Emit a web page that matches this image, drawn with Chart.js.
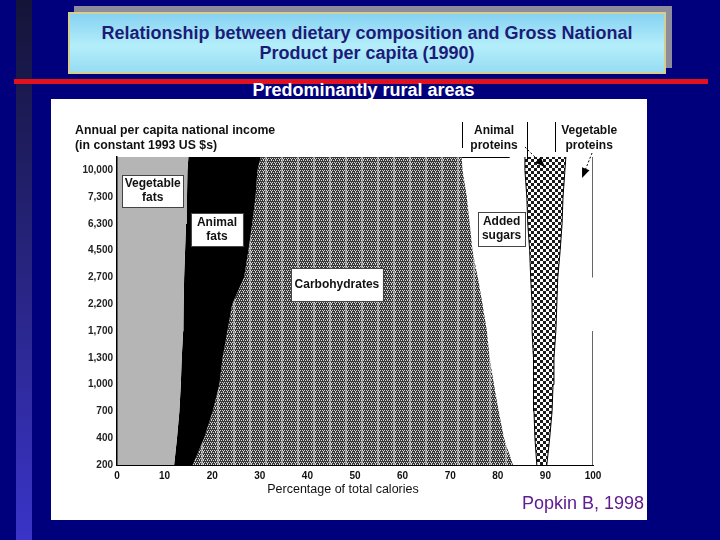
<!DOCTYPE html>
<html>
<head>
<meta charset="utf-8">
<script src="https://cdn.jsdelivr.net/npm/chart.js@4.4.1/dist/chart.umd.min.js"></script>
<style>
  html, body { margin: 0; padding: 0; }
  body {
    width: 720px; height: 540px; position: relative; overflow: hidden;
    background: #00007c; font-family: "Liberation Sans", Arial, sans-serif;
  }
  #strip { position: absolute; left: 16px; top: 0; width: 16px; height: 540px; background: linear-gradient(#141438, #3a34c8); }
  #shadow { position: absolute; left: 74px; top: 6px; width: 598px; height: 62px; background: #8c8c9c; }
  #titlebox {
    position: absolute; left: 68px; top: 12px; width: 594px; height: 58px;
    border: 2px solid #d6ce8c;
    background: linear-gradient(#86d2f2, #b4eefa 55%, #96dcf4);
    display: flex; align-items: center; justify-content: center; text-align: center;
    color: #1c1c78; font-weight: bold; font-size: 18px; line-height: 20px;
  }
  #redline { position: absolute; left: 14px; top: 79px; width: 694px; height: 5px; background: #e3101e; }
  #subtitle { position: absolute; left: 0; width: 727px; top: 81px; text-align: center; color: #fff; font-weight: bold; font-size: 18px; line-height: 18px; }
  #panel { position: absolute; left: 51px; top: 99px; width: 596px; height: 421px; background: #fff; }
  #source { position: absolute; right: 76px; top: 494px; color: #601c90; font-size: 18px; line-height: 18px; }
</style>
</head>
<body>
<div id="strip"></div>
<div id="shadow"></div>
<div id="titlebox">Relationship between dietary composition and Gross National<br>Product per capita (1990)</div>
<div id="redline"></div>
<div id="subtitle">Predominantly rural areas</div>
<div id="panel"><canvas id="myChart" width="596" height="421"></canvas></div>
<div id="source">Popkin B, 1998</div>

<script>
  // income rows, bottom to top
  const incomeLabels = ["200", "400", "700", "1,000", "1,300", "1,700", "2,200", "2,700", "4,500", "6,300", "7,300", "10,000"];

  // % of total calories per row (bottom to top); last value is read at the top edge of the plot
  const vegetableFats   = [12.0, 12.6, 13.1, 13.4, 13.6, 13.9, 14.0, 14.1, 14.3, 14.5, 14.7, 14.8, 15.0];
  const animalFats      = [3.9, 5.7, 7.0, 8.1, 8.6, 9.3, 10.2, 12.6, 13.3, 13.9, 14.4, 14.7, 15.2];
  const carbohydrates   = [67.3, 63.0, 60.1, 57.7, 56.1, 54.5, 52.6, 49.1, 47.1, 45.7, 44.4, 43.1, 42.2];
  const addedSugars     = [5.0, 6.5, 7.4, 8.4, 9.1, 9.5, 10.4, 11.1, 12.0, 12.2, 12.6, 13.1, 13.3];
  const animalProteins  = [2.1, 3.1, 3.8, 4.0, 4.4, 5.0, 5.2, 5.7, 6.4, 7.2, 7.6, 8.4, 8.6];
  const vegetableProteins = [9.7, 9.1, 8.6, 8.4, 8.2, 7.8, 7.6, 7.4, 6.9, 6.5, 6.3, 5.9, 5.7];

  const xTicks = [0, 10, 20, 30, 40, 50, 60, 70, 80, 90, 100];

  // row positions: one per income label, plus the top edge half a row above the last
  const rowPos = incomeLabels.map((_, i) => i).concat(incomeLabels.length - 0.5);
  const toPoints = (arr) => arr.map((v, i) => ({ x: v, y: rowPos[i] }));

  const FONT = '"Liberation Sans", Arial, sans-serif';

  function makePattern(w, h, draw) {
    const c = document.createElement("canvas");
    c.width = w; c.height = h;
    const g = c.getContext("2d");
    draw(g);
    return g.createPattern(c, "repeat");
  }

  const weave = makePattern(16, 4, (g) => {
    g.fillStyle = "#383838";
    g.fillRect(0, 0, 16, 4);
    g.fillStyle = "#d4d4d4";
    for (let i = 0; i < 16; i += 2) {
      g.fillRect(i, 1, 1, 1);
      g.fillRect(i + 1, 3, 1, 1);
    }
    for (let i = 0; i < 16; i += 4) g.fillRect(i, 0, 1, 1);
    g.fillStyle = "rgba(255,255,255,0.45)";
    g.fillRect(6, 0, 2, 4);
  });

  const checker = makePattern(6, 6, (g) => {
    g.fillStyle = "#fff";
    g.fillRect(0, 0, 6, 6);
    g.fillStyle = "#1a1a1a";
    g.fillRect(0, 0, 3, 3);
    g.fillRect(3, 3, 3, 3);
  });

  // boxed labels inside the plot: [lines, x %, row, box w, box h]
  const boxLabels = [
    [["Vegetable", "fats"], 7.5, 10.23, 61, 32],
    [["Animal", "fats"], 21.0, 8.79, 52, 33],
    [["Carbohydrates"], 46.2, 6.74, 92, 33],
    [["Added", "sugars"], 80.8, 8.81, 47, 34],
  ];

  const overlay = {
    id: "overlay",
    afterDatasetsDraw(chart) {
      const { ctx, chartArea, scales } = chart;
      const x = scales.x, y = scales.y;
      const top = chartArea.top;
      ctx.save();
      ctx.textBaseline = "middle";

      // boxed labels
      ctx.font = "bold 12px " + FONT;
      ctx.textAlign = "center";
      boxLabels.forEach(([lines, px, row, w, h]) => {
        const cx = x.getPixelForValue(px), cy = y.getPixelForValue(row);
        ctx.fillStyle = "#fff";
        ctx.fillRect(cx - w / 2, cy - h / 2, w, h);
        ctx.strokeStyle = "#444";
        ctx.lineWidth = 1;
        ctx.strokeRect(Math.round(cx - w / 2) + 0.5, Math.round(cy - h / 2) + 0.5, w, h);
        ctx.fillStyle = "#111";
        lines.forEach((t, i) => ctx.fillText(t, cx, cy + (i - (lines.length - 1) / 2) * 14));
      });

      // y axis heading
      ctx.textAlign = "left";
      ctx.font = "bold 12.3px " + FONT;
      ctx.fillText("Annual per capita national income", chartArea.left - 42, top - 26);
      ctx.fillText("(in constant 1993 US $s)", chartArea.left - 42, top - 11);

      // protein headings
      ctx.textAlign = "center";
      ctx.font = "bold 12px " + FONT;
      [["Animal", "proteins", 79.2], ["Vegetable", "proteins", 99.2]].forEach(([a, b, px]) => {
        const cx = x.getPixelForValue(px);
        ctx.fillText(a, cx, top - 26);
        ctx.fillText(b, cx, top - 11);
      });

      ctx.strokeStyle = "#000";
      ctx.lineWidth = 1;
      const vline = (px, y0, y1) => {
        const xx = Math.round(x.getPixelForValue(px)) + 0.5;
        ctx.beginPath(); ctx.moveTo(xx, top + y0); ctx.lineTo(xx, top + y1); ctx.stroke();
      };
      vline(72.4, -35, -9);
      vline(86.1, -35, 3);
      vline(92.0, -35, -5);
      ctx.beginPath();
      ctx.moveTo(x.getPixelForValue(72.4), top + 0.5);
      ctx.lineTo(x.getPixelForValue(82.5), top + 0.5);
      ctx.stroke();

      // dotted arrows
      const arrow = (p0, y0, p1, y1) => {
        const x0 = x.getPixelForValue(p0), x1 = x.getPixelForValue(p1);
        const a = Math.atan2(y1 - y0, x1 - x0);
        ctx.setLineDash([2, 2]);
        ctx.beginPath();
        ctx.moveTo(x0, top + y0);
        ctx.lineTo(x1 - 7 * Math.cos(a), top + y1 - 7 * Math.sin(a));
        ctx.stroke();
        ctx.setLineDash([]);
        ctx.fillStyle = "#000";
        ctx.beginPath();
        ctx.moveTo(x1, top + y1);
        ctx.lineTo(x1 - 10 * Math.cos(a) + 4 * Math.sin(a), top + y1 - 10 * Math.sin(a) - 4 * Math.cos(a));
        ctx.lineTo(x1 - 10 * Math.cos(a) - 4 * Math.sin(a), top + y1 - 10 * Math.sin(a) + 4 * Math.cos(a));
        ctx.closePath();
        ctx.fill();
      };
      arrow(85.7, -10, 89.9, 10);
      arrow(99.8, -4, 97.7, 21);

      // x axis title, set a little left of the plot centre as in the source
      ctx.textAlign = "center";
      ctx.fillStyle = "#111";
      ctx.font = "12.5px " + FONT;
      ctx.fillText("Percentage of total calories", (chartArea.left + chartArea.right) / 2 - 12, chartArea.bottom + 25);

      ctx.restore();
    },
  };

  window.addEventListener("load", setup);

  function setup() {
    const ctx = document.getElementById("myChart").getContext("2d");
    const base = { pointRadius: 0, borderWidth: 0, tension: 0 };

    new Chart(ctx, {
      type: "line",
      data: {
        datasets: [
          { ...base, label: "Vegetable fats", data: toPoints(vegetableFats), fill: "origin", backgroundColor: "#b5b5b5", borderColor: "#b5b5b5" },
          { ...base, label: "Animal fats", data: toPoints(animalFats), fill: "-1", backgroundColor: "#000", borderColor: "#000" },
          { ...base, label: "Carbohydrates", data: toPoints(carbohydrates), fill: "-1", backgroundColor: weave, borderColor: "#333" },
          { ...base, label: "Added sugars", data: toPoints(addedSugars), fill: false, borderColor: "#000", borderWidth: 1 },
          { ...base, label: "Animal proteins", data: toPoints(animalProteins), fill: "-1", backgroundColor: checker, borderColor: "#000", borderWidth: 1 },
          {
            ...base, label: "Vegetable proteins", data: toPoints(vegetableProteins), fill: false,
            borderColor: "#000", borderWidth: 1.2,
            segment: { borderColor: (c) => (c.p0DataIndex === 5 || c.p0DataIndex === 6 ? "rgba(0,0,0,0)" : undefined) },
          },
        ],
      },
      options: {
        indexAxis: "y",
        responsive: false,
        animation: false,
        events: [],
        layout: { padding: { left: 20, top: 58, right: 54, bottom: 0 } },
        plugins: { legend: { display: false }, tooltip: { enabled: false } },
        scales: {
          x: {
            type: "linear",
            stacked: true,
            min: 0,
            max: 100,
            afterBuildTicks: (s) => { s.ticks = xTicks.map((v) => ({ value: v })); },
            ticks: { color: "#111", padding: 5, maxRotation: 0, font: { family: FONT, size: 10, weight: "bold" } },
            grid: { display: false, drawTicks: false },
            border: { display: true, color: "#000", width: 1, z: 1 },
            afterFit: (s) => { s.height = 55; },
          },
          y: {
            type: "linear",
            min: 0,
            max: incomeLabels.length - 0.5,
            ticks: {
              stepSize: 1,
              autoSkip: false,
              color: "#222",
              padding: 4,
              font: { family: FONT, size: 10, weight: "bold" },
              callback: (v) => (Number.isInteger(v) ? incomeLabels[v] : ""),
            },
            grid: { display: false, drawTicks: false },
            border: { display: true, color: "#000", width: 1.5, z: 1 },
            afterFit: (s) => { s.width = 46; },
          },
        },
      },
      plugins: [overlay],
    });
  }
</script>
</body>
</html>
